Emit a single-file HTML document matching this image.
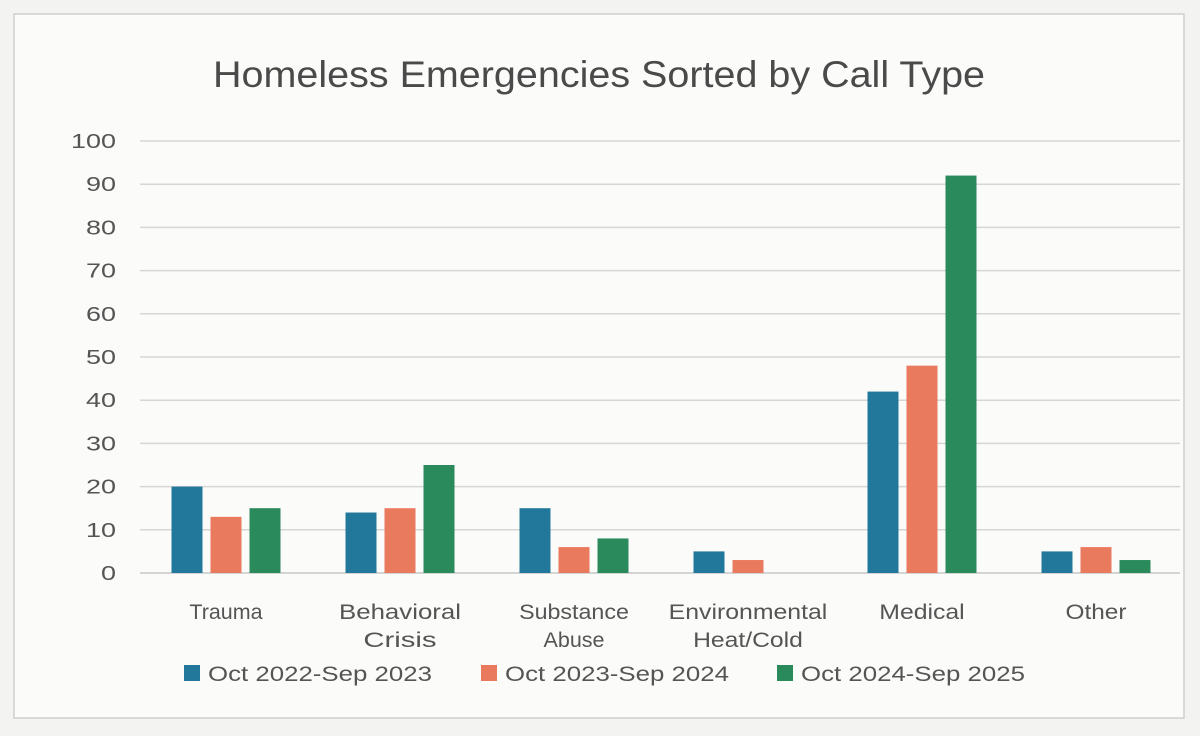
<!DOCTYPE html>
<html><head><meta charset="utf-8"><style>
html,body{margin:0;padding:0;background:#f4f4f2;}
svg{display:block;font-family:"Liberation Sans",sans-serif;}
</style></head><body>
<svg width="1200" height="736" viewBox="0 0 1200 736">
<rect x="0" y="0" width="1200" height="736" fill="#f3f3f1"/>
<rect x="14" y="14" width="1170" height="704" fill="#fbfbfa" stroke="#cfcfcf" stroke-width="1.5"/>
<text x="213" y="87" textLength="772" lengthAdjust="spacingAndGlyphs" font-size="37" fill="#4a4a4a">Homeless Emergencies Sorted by Call Type</text>
<g id="grid"></g><g id="bars"></g><g id="xl"></g>
<g id="legend"></g>
</svg>
<script>
const categories=[["Trauma"],["Behavioral","Crisis"],["Substance","Abuse"],["Environmental","Heat/Cold"],["Medical"],["Other"]];
const series1=[20,14,15,5,42,5];
const series2=[13,15,6,3,48,6];
const series3=[15,25,8,0,92,3];
const seriesNames=["Oct 2022-Sep 2023","Oct 2023-Sep 2024","Oct 2024-Sep 2025"];
const ticks=[0,10,20,30,40,50,60,70,80,90,100];
const colors=["#22789a","#ea7a5e","#2a8a5c"];
const NS="http://www.w3.org/2000/svg";
const y0=573,y1=141,x0=140,x1=1180;
const ys=v=>y0-(v/100)*(y0-y1);
function mk(t,p,a){const e=document.createElementNS(NS,t);for(const k in a)e.setAttribute(k,a[k]);p.appendChild(e);return e;}
const grid=document.getElementById('grid');
ticks.forEach(t=>{
 const l=mk('line',grid,{x1:x0,x2:x1,y1:ys(t),y2:ys(t),stroke:t===0?'#c8c8c8':'#d6d6d6','stroke-width':1.5});
 
 
 const s=String(t);
 const tx=mk('text',grid,{x:116-s.length*15,y:ys(t)+7,'font-size':20,fill:'#555',textLength:s.length*15,lengthAdjust:'spacingAndGlyphs'});
 tx.textContent=s;
 
 
});
const bars=document.getElementById('bars');
const all=[series1,series2,series3];
const bw=31,step=39;
categories.forEach((c,i)=>{
 const cx=226+i*174;
 all.forEach((s,j)=>{
  const v=s[i];
  const r=mk('rect',bars,{x:cx+(j-1)*step-bw/2,y:ys(v),width:bw,height:y0-ys(v),fill:colors[j]});
  
  
 });
 c.forEach((ln,k)=>{
  const w=ln.length*12.2;
  const tx=mk('text',document.getElementById('xl'),{x:cx-w/2,y:619+k*28,'font-size':21,fill:'#555',textLength:w,lengthAdjust:'spacingAndGlyphs'});
  tx.textContent=ln;
  
  
 });
});
const lg=document.getElementById('legend');
const lx=[184,481,777];
seriesNames.forEach((n,j)=>{
 const r=mk('rect',lg,{x:lx[j],y:665,width:16,height:16,fill:colors[j]});
 
 
 const t=mk('text',lg,{x:lx[j]+24,y:681,'font-size':21,fill:'#555',textLength:224,lengthAdjust:'spacingAndGlyphs'});
 t.textContent=n;
 
 
});
</script>
</body></html>
